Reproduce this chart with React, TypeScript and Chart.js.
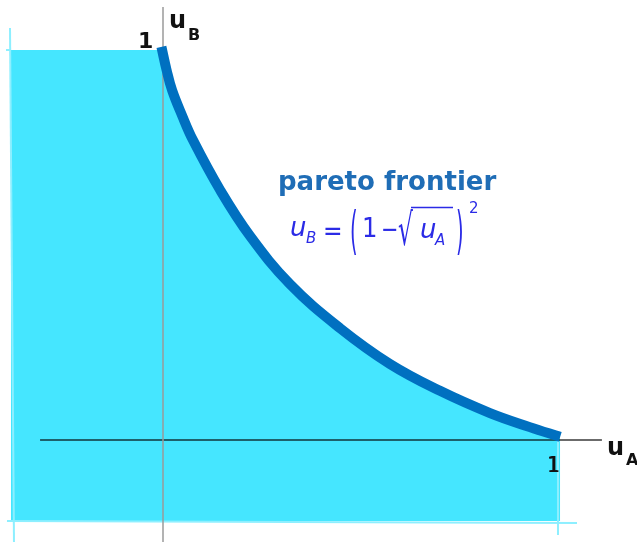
import React, { useEffect, useRef } from "react";
import { Chart, registerables } from "chart.js";

Chart.register(...registerables);

// Pareto frontier (u_A, u_B)
const curveUA = [-0.004, 0.009, 0.023, 0.048, 0.076, 0.145, 0.221, 0.322, 0.449, 0.576, 0.703, 0.83, 0.931, 1.008];
const curveUB = [1.008, 0.949, 0.897, 0.833, 0.769, 0.641, 0.523, 0.4, 0.287, 0.195, 0.126, 0.069, 0.033, 0.008];

// Feasible region bounds
const regionLeftUA = -0.386;
const regionTopUB = 1.0;
const regionBottomUB = -0.208;

// Light outline strokes of the region (segments: [x1, y1, x2, y2])
const outlineX1 = [-0.3883, -0.3985, -0.396, 1.0025];
const outlineY1 = [1.0564, 1.0, -0.2077, 0.0];
const outlineX2 = [-0.3782, -0.386, 1.0508, 1.0025];
const outlineY2 = [-0.2615, 1.0, -0.2128, -0.2436];

// Axes extents
const hAxisUA = [-0.312, 1.114];
const vAxisUB = [-0.262, 1.11];

// Scale window
const xMin = -0.41371;
const xMax = 1.20305;
const yMin = -0.26154;
const yMax = 1.12821;

const tickOne = 1;

export default function App() {
  const ref = useRef<HTMLCanvasElement | null>(null);

  useEffect(() => {
    const canvas = ref.current;
    if (!canvas) return;

    const curve = curveUA.map((x, i) => ({ x, y: curveUB[i] }));
    const regionUnder = [{ x: 0, y: regionTopUB }, ...curve.slice(1)];
    const regionLeft = [
      { x: regionLeftUA, y: regionTopUB },
      { x: 0.002, y: regionTopUB },
    ];

    const outlineSets = outlineX1.map((x1, i) => ({
      type: "line" as const,
      data: [
        { x: x1, y: outlineY1[i] },
        { x: outlineX2[i], y: outlineY2[i] },
      ],
      borderColor: "#8DEFFF",
      borderWidth: 2,
      pointRadius: 0,
      fill: false,
      tension: 0,
      order: 3,
    }));

    const textPlugin = {
      id: "texts",
      afterDraw(chart: any) {
        const ctx = chart.ctx as CanvasRenderingContext2D;
        const xs = chart.scales.x;
        const ys = chart.scales.y;
        const put = (
          t: string,
          x: number,
          y: number,
          font: string,
          color: string,
          sx = 1,
          sy = 1
        ) => {
          ctx.save();
          ctx.font = font;
          ctx.fillStyle = color;
          ctx.textBaseline = "alphabetic";
          ctx.textAlign = "left";
          ctx.translate(x, y);
          ctx.scale(sx, sy);
          ctx.fillText(t, 0, 0);
          ctx.restore();
        };
        const x0 = xs.getPixelForValue(0);
        const y0 = ys.getPixelForValue(0);
        const x1 = xs.getPixelForValue(tickOne);
        const y1 = ys.getPixelForValue(tickOne);

        // axis tick "1" labels
        put(String(tickOne), x0 - 25, y1 - 2, "bold 22px 'DejaVu Sans'", "#111");
        put(String(tickOne), x1 - 10, y0 + 32, "22px 'DejaVu Sans'", "#111", 0.85, 1);
        put(String(tickOne), x1 - 8.8, y0 + 32, "22px 'DejaVu Sans'", "#111", 0.85, 1);

        // axis names
        put("u", x0 + 6, y1 - 22, "bold 24px 'DejaVu Sans'", "#111");
        put("B", x0 + 25, y1 - 10, "bold 16px 'DejaVu Sans'", "#111");
        put("u", 607, y0 + 15, "bold 24px 'DejaVu Sans'", "#111");
        put("A", 626, y0 + 25, "bold 16px 'DejaVu Sans'", "#111");

        // annotation
        put("pareto frontier", 278, 190, "bold 26px 'DejaVu Sans'", "#1F6DB6");

        const fc = "#2B2BE6";
        put("u", 290, 236, "italic 26px 'DejaVu Sans'", fc);
        put("B", 306, 243, "italic 15px 'DejaVu Sans'", fc);
        put("=", 323, 240, "26px 'DejaVu Sans'", fc, 0.9, 1);
        put("(", 350, 248, "26px 'DejaVu Sans'", fc, 0.75, 2);
        put("1", 362, 237, "27px 'DejaVu Sans'", fc, 0.9, 1);
        put("\u2212", 381, 238, "26px 'DejaVu Sans'", fc, 0.8, 1);
        put("\u221A", 398, 245, "26px 'DejaVu Sans'", fc, 0.9, 1.7);
        ctx.save();
        ctx.strokeStyle = fc;
        ctx.lineWidth = 1.5;
        ctx.beginPath();
        ctx.moveTo(411, 207.5);
        ctx.lineTo(453, 207.5);
        ctx.stroke();
        ctx.restore();
        put("u", 420, 238, "italic 26px 'DejaVu Sans'", fc);
        put("A", 435, 245, "italic 15px 'DejaVu Sans'", fc);
        put(")", 456, 248, "26px 'DejaVu Sans'", fc, 0.75, 2);
        put("2", 469, 213, "15px 'DejaVu Sans'", fc);
      },
    };

    const chart = new Chart(canvas, {
      type: "line",
      data: {
        datasets: [
          {
            data: curve,
            borderColor: "#0070C0",
            borderWidth: 10,
            pointRadius: 0,
            fill: false,
            tension: 0.4,
            borderCapStyle: "butt",
            order: 0,
          },
          {
            data: [
              { x: 0, y: vAxisUB[0] },
              { x: 0, y: vAxisUB[1] },
            ],
            borderColor: "#9A9A9A",
            borderWidth: 1.5,
            pointRadius: 0,
            fill: false,
            tension: 0,
            order: 1,
          },
          {
            data: [
              { x: hAxisUA[0], y: 0 },
              { x: hAxisUA[1], y: 0 },
            ],
            borderColor: "rgba(0,0,0,0.58)",
            borderWidth: 2,
            pointRadius: 0,
            fill: false,
            tension: 0,
            order: 2,
          },
          ...outlineSets,
          {
            data: regionUnder,
            borderWidth: 0,
            borderColor: "rgba(0,0,0,0)",
            backgroundColor: "#45E6FF",
            pointRadius: 0,
            tension: 0.4,
            fill: { value: regionBottomUB },
            order: 4,
          },
          {
            data: regionLeft,
            borderWidth: 0,
            borderColor: "rgba(0,0,0,0)",
            backgroundColor: "#45E6FF",
            pointRadius: 0,
            tension: 0,
            fill: { value: regionBottomUB },
            order: 5,
          },
        ] as any,
      },
      options: {
        animation: false,
        responsive: false,
        maintainAspectRatio: false,
        layout: { padding: 0 },
        plugins: {
          legend: { display: false },
          tooltip: { enabled: false },
        },
        scales: {
          x: { type: "linear", min: xMin, max: xMax, display: false },
          y: { type: "linear", min: yMin, max: yMax, display: false },
        },
      } as any,
      plugins: [textPlugin],
    });
    return () => chart.destroy();
  }, []);

  return (
    <canvas
      ref={ref}
      width={637}
      height={542}
      style={{ position: "fixed", left: 0, top: 0, width: 637, height: 542, display: "block" }}
    />
  );
}
